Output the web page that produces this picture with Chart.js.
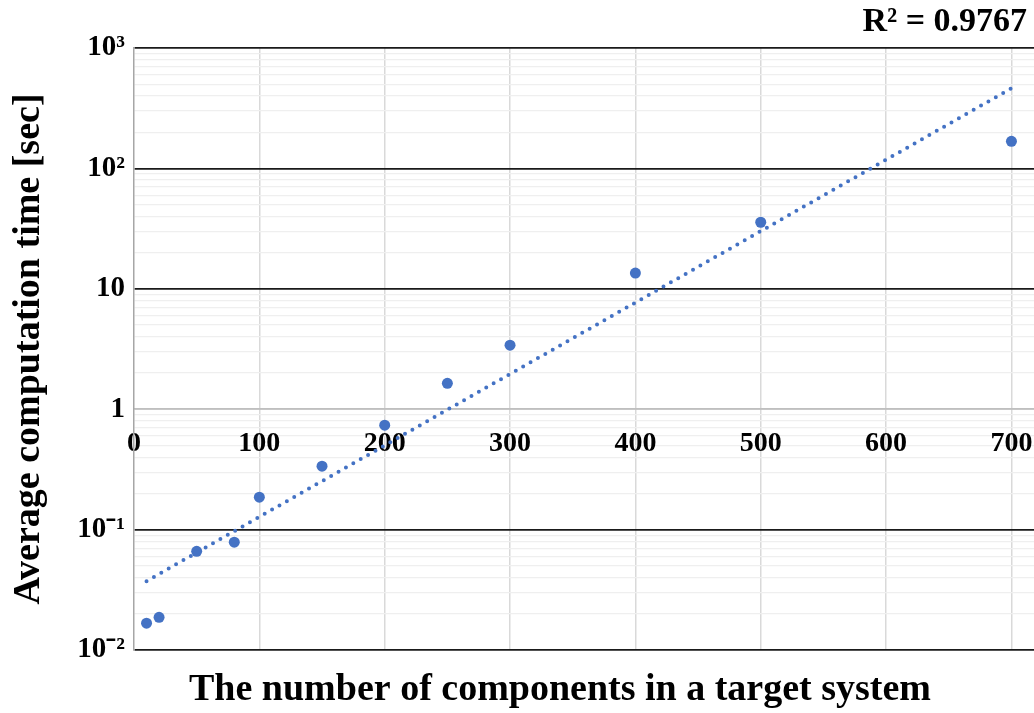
<!DOCTYPE html>
<html lang="en">
<head>
    <meta charset="UTF-8">
    <title>Average computation time</title>
    <script src="https://cdn.jsdelivr.net/npm/chart.js"></script>
    <style>
        body {
            margin: 0;
            background: #fff;
        }
        .chart-container {
            position: relative;
            width: 1034px;
            height: 713px;
        }
    </style>
</head>
<body>
    <div class="chart-container">
        <canvas id="scatterChart"></canvas>
    </div>

    <script>
        // number of components vs measured time [sec]
        const components = [10, 20, 50, 80, 100, 150, 200, 250, 300, 400, 500, 700];
        const times = [0.0167, 0.0187, 0.066, 0.0786, 0.186, 0.336, 0.736, 1.64, 3.40, 13.5, 35.7, 168];

        // exponential trendline, end points
        const trendX = [10, 700];
        const trendY = [0.0373, 463];
        const rSquared = "R² = 0.9767";
        const xTitle = "The number of components in a target system";
        const yTitle = "Average computation time [sec]";

        const xTicks = [0, 100, 200, 300, 400, 500, 600, 700];
        const yDecades = [0.01, 0.1, 1, 10, 100, 1000];
        const yTickLabels = ["10⁻²", "10⁻¹", "1", "10", "10²", "10³"];
        const minorSteps = [2, 3, 4, 5, 6, 7, 8, 9];

        const blue = "#4472C4";
        const serif = "'Liberation Serif', 'Times New Roman', serif";

        function isDecade(v) {
            return yDecades.some(d => Math.abs(v - d) / d < 1e-6);
        }

        // R² text top right and x axis title at the bottom
        const captions = {
            id: "captions",
            afterDraw(chart) {
                const c = chart.ctx;
                c.save();
                c.fillStyle = "#000";
                c.textBaseline = "middle";
                c.font = "bold 34px " + serif;
                c.textAlign = "right";
                c.fillText(rSquared, 1027, 22);
                c.font = "bold 38px " + serif;
                c.textAlign = "center";
                c.fillText(xTitle, 560, 690);
                c.restore();
            }
        };

        const ctx = document.getElementById("scatterChart").getContext("2d");
        new Chart(ctx, {
            type: "scatter",
            data: {
                datasets: [
                    {
                        label: "Measured",
                        data: components.map((x, i) => ({ x: x, y: times[i] })),
                        backgroundColor: blue,
                        borderWidth: 0,
                        pointRadius: 5.5,
                        order: 1
                    },
                    {
                        label: "Trend",
                        type: "line",
                        data: trendX.map((x, i) => ({ x: x, y: trendY[i] })),
                        borderColor: blue,
                        borderWidth: 4,
                        borderDash: [0, 8.5],
                        borderCapStyle: "round",
                        pointRadius: 0,
                        fill: false,
                        order: 2
                    }
                ]
            },
            plugins: [captions],
            options: {
                responsive: true,
                maintainAspectRatio: false,
                animation: false,
                layout: {
                    autoPadding: false,
                    padding: { left: 0, right: 0, top: 48, bottom: 63 }
                },
                plugins: {
                    legend: { display: false },
                    tooltip: { enabled: false }
                },
                scales: {
                    x: {
                        type: "linear",
                        min: 0,
                        max: 718,
                        position: { y: 1 },
                        afterBuildTicks: scale => {
                            scale.ticks = xTicks.map(v => ({ value: v }));
                        },
                        afterFit: scale => {
                            scale.paddingLeft = 0;
                            scale.paddingRight = 0;
                        },
                        ticks: {
                            color: "#000",
                            padding: 18,
                            maxRotation: 0,
                            autoSkip: false,
                            font: { family: serif, size: 28, weight: "bold" }
                        },
                        grid: {
                            drawTicks: false,
                            color: c => (c.tick && c.tick.value === 0 ? "rgba(0,0,0,0)" : "#d9d9d9"),
                            lineWidth: 1.5
                        },
                        border: { color: "#bfbfbf", width: 1.5 }
                    },
                    y: {
                        type: "logarithmic",
                        min: 0.01,
                        max: 1000,
                        afterBuildTicks: scale => {
                            const ticks = [];
                            yDecades.forEach((d, i) => {
                                ticks.push({ value: d, major: true });
                                if (i < yDecades.length - 1) {
                                    minorSteps.forEach(m => ticks.push({ value: m * d }));
                                }
                            });
                            scale.ticks = ticks;
                        },
                        afterFit: scale => {
                            scale.width = 134;
                            scale.paddingTop = 0;
                            scale.paddingBottom = 0;
                        },
                        ticks: {
                            color: "#000",
                            padding: 9,
                            autoSkip: false,
                            font: { family: serif, size: 29, weight: "bold" },
                            callback: value => {
                                const i = yDecades.findIndex(d => Math.abs(value - d) / d < 1e-6);
                                return i >= 0 ? yTickLabels[i] : "";
                            }
                        },
                        grid: {
                            drawTicks: false,
                            color: c => {
                                const v = c.tick ? c.tick.value : 0;
                                if (Math.abs(v - 1) < 1e-9) return "#bfbfbf";
                                return isDecade(v) ? "#1a1a1a" : "#efefef";
                            },
                            lineWidth: c => (c.tick && isDecade(c.tick.value) ? 1.7 : 1.2)
                        },
                        border: { color: "#a6a6a6", width: 1.5 },
                        title: {
                            display: true,
                            text: yTitle,
                            color: "#000",
                            font: { family: serif, size: 38, weight: "bold" },
                            padding: { top: 6, bottom: 0 }
                        }
                    }
                }
            }
        });
    </script>
</body>
</html>
